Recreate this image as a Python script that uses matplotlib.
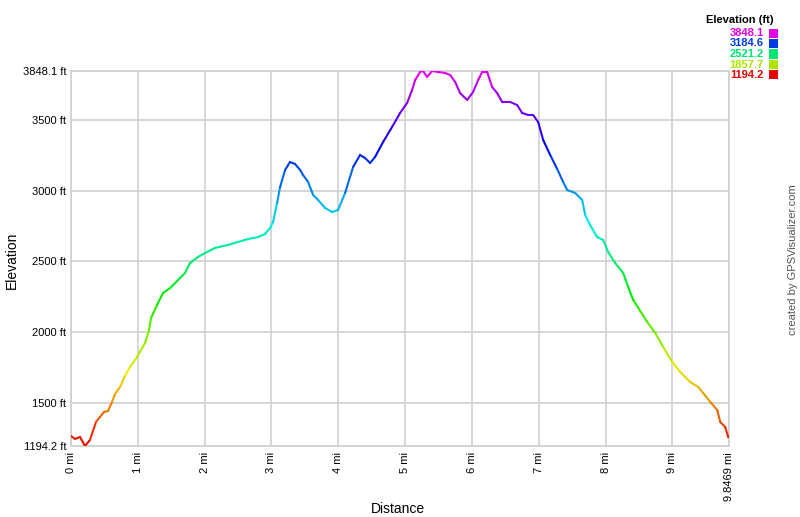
import matplotlib
matplotlib.use('Agg')
import matplotlib.pyplot as plt
import numpy as np
from matplotlib.collections import LineCollection
from matplotlib.colors import hsv_to_rgb

distance_mi = [0.000, 0.060, 0.135, 0.210, 0.284, 0.374, 0.434, 0.494, 0.554, 0.614,
               0.659, 0.734, 0.808, 0.883, 0.988, 1.108, 1.168, 1.198, 1.287, 1.377,
               1.482, 1.632, 1.707, 1.781, 1.901, 2.006, 2.156, 2.350, 2.500, 2.650,
               2.799, 2.904, 2.979, 3.024, 3.084, 3.129, 3.204, 3.278, 3.353, 3.428,
               3.473, 3.548, 3.623, 3.698, 3.802, 3.907, 3.997, 4.102, 4.222, 4.326,
               4.401, 4.476, 4.551, 4.671, 4.805, 4.925, 5.030, 5.105, 5.150, 5.225,
               5.269, 5.329, 5.404, 5.494, 5.599, 5.674, 5.749, 5.823, 5.928, 6.018,
               6.093, 6.153, 6.228, 6.302, 6.377, 6.452, 6.572, 6.677, 6.751, 6.841,
               6.916, 6.991, 7.066, 7.171, 7.275, 7.365, 7.425, 7.545, 7.650, 7.695,
               7.769, 7.874, 7.964, 8.039, 8.144, 8.263, 8.338, 8.413, 8.518, 8.623,
               8.743, 8.862, 8.997, 9.117, 9.266, 9.386, 9.461, 9.566, 9.671, 9.716,
               9.790, 9.835, 9.8469]
elevation_ft = [1265, 1244, 1258, 1194, 1237, 1364, 1400, 1435, 1442, 1506,
                1562, 1612, 1690, 1753, 1824, 1923, 2015, 2100, 2192, 2277,
                2312, 2383, 2419, 2489, 2532, 2560, 2596, 2617, 2638, 2659,
                2673, 2695, 2737, 2780, 2914, 3027, 3148, 3204, 3190, 3148,
                3112, 3063, 2971, 2935, 2879, 2850, 2864, 2985, 3169, 3254,
                3232, 3197, 3240, 3346, 3452, 3551, 3622, 3714, 3784, 3841,
                3848, 3806, 3848, 3841, 3834, 3820, 3770, 3692, 3643, 3700,
                3784, 3841, 3841, 3735, 3692, 3629, 3629, 3607, 3551, 3537,
                3537, 3487, 3360, 3254, 3155, 3063, 3006, 2985, 2935, 2829,
                2758, 2673, 2652, 2567, 2489, 2419, 2320, 2228, 2150, 2072,
                1994, 1895, 1789, 1718, 1647, 1612, 1569, 1506, 1449, 1364,
                1329, 1258, 1258]

elev_min, elev_max = 1194.2, 3848.1
dist_max = 9.8469
ytick_vals = [1194.2, 1500, 2000, 2500, 3000, 3500, 3848.1]
ytick_labels = ['1194.2 ft', '1500 ft', '2000 ft', '2500 ft', '3000 ft', '3500 ft', '3848.1 ft']
xtick_vals = [0, 1, 2, 3, 4, 5, 6, 7, 8, 9, 9.8469]
xtick_labels = ['0 mi', '1 mi', '2 mi', '3 mi', '4 mi', '5 mi', '6 mi', '7 mi', '8 mi', '9 mi', '9.8469 mi']
legend_vals = [3848.1, 3184.6, 2521.2, 1857.7, 1194.2]
legend_labels = ['3848.1', '3184.6', '2521.2', '1857.7', '1194.2']

plt.rcParams['font.family'] = ['Liberation Sans', 'DejaVu Sans']


def elev_color(e, v=0.93):
    frac = (e - elev_min) / (elev_max - elev_min)
    frac = min(max(frac, 0.0), 1.0)
    return hsv_to_rgb((300.0 / 360.0 * frac, 1.0, v))


W, H = 800, 517
fig = plt.figure(figsize=(W / 100, H / 100), dpi=100)
ax = fig.add_axes([71 / W, 71 / H, 658 / W, 375 / H])

d = np.array(distance_mi)
e = np.array(elevation_ft)
pts = np.column_stack([d, e])
segs = np.stack([pts[:-1], pts[1:]], axis=1)
cols = [elev_color((e[i] + e[i + 1]) / 2) for i in range(len(e) - 1)]
lc = LineCollection(segs, colors=cols, linewidths=1.5, capstyle='round', joinstyle='round', zorder=3)
ax.add_collection(lc)

ax.set_xlim(0, dist_max)
ax.set_ylim(elev_min, elev_max)
ax.set_yticks(ytick_vals)
ax.set_yticklabels(ytick_labels, fontsize=8)
ax.set_xticks(xtick_vals)
ax.set_xticklabels(xtick_labels, fontsize=8, rotation=90, va='top')
ax.tick_params(length=0)
ax.tick_params(axis='y', pad=3.5)
ax.tick_params(axis='x', pad=4.5)
ax.grid(True, color='#d0d0d0', linewidth=1.2, zorder=0)
ax.set_axisbelow(True)
for s in ax.spines.values():
    s.set_color('#d0d0d0')
    s.set_linewidth(1.2)

fig.text(12 / W, 1 - 260 / H, 'Elevation', rotation=90, ha='center', va='center', fontsize=10)
fig.text(398 / W, 1 - 509 / H, 'Distance', ha='center', va='center', fontsize=10)

fig.text(774 / W, 1 - 20 / H, 'Elevation (ft)', ha='right', va='center', fontsize=8, fontweight='bold')
ys = [33, 43.5, 54, 64.5, 75]
for val, lab, yy in zip(legend_vals, legend_labels, ys):
    c = elev_color(val, v=0.9)
    fig.text(764 / W, 1 - yy / H, lab, ha='right', va='center', fontsize=8, fontweight='bold', color=c)
    fig.patches.append(plt.Rectangle((769 / W, 1 - (yy + 4.5) / H), 9 / W, 9 / H,
                                     transform=fig.transFigure, facecolor=c, edgecolor='none'))

fig.text(793 / W, 1 - 260 / H, 'created by GPSVisualizer.com', rotation=90, ha='center', va='center',
         fontsize=8, color='#555555')

fig.savefig('out.png', dpi=100)
